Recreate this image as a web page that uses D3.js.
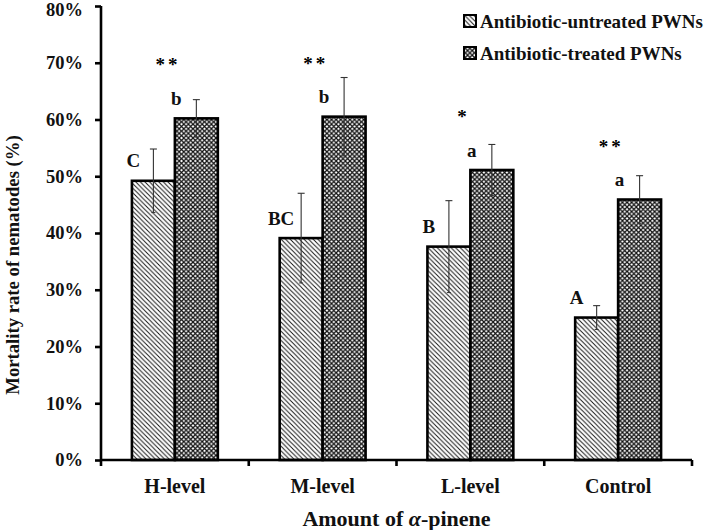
<!DOCTYPE html>
<html><head><meta charset="utf-8">
<script src="https://cdn.jsdelivr.net/npm/d3@7/dist/d3.min.js"></script>
<style>
body{margin:0;background:#fff;}
text{font-family:"Liberation Serif","Times New Roman",serif;font-weight:bold;fill:#111;}
</style></head>
<body><svg id="c" width="705" height="530"></svg>
<script>
const categories = ["H-level","M-level","L-level","Control"];
const seriesNames = ["Antibiotic-untreated PWNs","Antibiotic-treated PWNs"];
const untreated = [49.2, 39.1, 37.6, 25.1];
const untreatedErr = [5.6, 7.9, 8.1, 2.1];
const treated = [60.2, 60.5, 51.1, 45.9];
const treatedErr = [3.3, 6.9, 4.5, 4.2];
const untreatedLetters = ["C","BC","B","A"];
const treatedLetters = ["b","b","a","a"];
const significance = ["**","**","*","**"];
const yTicks = [0,10,20,30,40,50,60,70,80];

const svg = d3.select("#c");
const L=101, R=692, T=6, B=460;
const defs = svg.append("defs");
const hs = 4.6;
const p1 = defs.append("pattern").attr("id","hatch").attr("patternUnits","userSpaceOnUse")
  .attr("width",hs).attr("height",hs);
p1.append("rect").attr("width",hs).attr("height",hs).attr("fill","#fff");
p1.append("path").attr("d",`M-1,-1 L${hs+1},${hs+1} M-1,${hs-1} L1,${hs+1} M${hs-1},-1 L${hs+1},1`).attr("stroke","#111").attr("stroke-width",0.95);
const cs = 4.6;
const p2 = defs.append("pattern").attr("id","cross").attr("patternUnits","userSpaceOnUse")
  .attr("width",cs).attr("height",cs);
p2.append("rect").attr("width",cs).attr("height",cs).attr("fill","#fff");
p2.append("path").attr("d",`M0,0 L${cs},${cs} M${cs},0 L0,${cs}`).attr("stroke","#111").attr("stroke-width",1.25);
const fills = ["url(#hatch)","url(#cross)"];

const y = d3.scaleLinear().domain([0,80]).range([B,T]);
const x0 = d3.scaleBand().domain(categories).range([L,R]).padding(0);
const x1 = d3.scaleBand().domain([0,1]).range([0,x0.bandwidth()]).paddingInner(0).paddingOuter(0.72);

const data = categories.map((c,i)=>({c, vals:[
  {s:0,v:untreated[i],e:untreatedErr[i],lab:untreatedLetters[i]},
  {s:1,v:treated[i],e:treatedErr[i],lab:treatedLetters[i]}], sig:significance[i]}));

const g = svg.append("g");
const grp = g.selectAll("g.grp").data(data).join("g").attr("transform",d=>`translate(${x0(d.c)},0)`);
grp.selectAll("rect").data(d=>d.vals).join("rect")
  .attr("x",d=>x1(d.s)).attr("width",x1.bandwidth())
  .attr("y",d=>y(d.v)).attr("height",d=>B-y(d.v))
  .attr("fill",d=>fills[d.s]).attr("stroke","#000").attr("stroke-width",2.6);

// error bars
const cx = d=>x1(d.s)+x1.bandwidth()/2;
const eb = grp.selectAll("g.eb").data(d=>d.vals).join("g").attr("class","eb");
eb.append("line").attr("x1",cx).attr("x2",cx)
  .attr("y1",d=>y(d.v+d.e)).attr("y2",d=>y(d.v-d.e)).attr("stroke","#333").attr("stroke-width",1.1);
eb.append("line").attr("x1",d=>cx(d)-3.5).attr("x2",d=>cx(d)+3.5)
  .attr("y1",d=>y(d.v+d.e)).attr("y2",d=>y(d.v+d.e)).attr("stroke","#333").attr("stroke-width",1.1);
eb.append("line").attr("x1",d=>cx(d)-2).attr("x2",d=>cx(d)+2)
  .attr("y1",d=>y(d.v-d.e)).attr("y2",d=>y(d.v-d.e)).attr("stroke","#333").attr("stroke-width",1);

// letters
grp.selectAll("text.lab").data(d=>d.vals).join("text").attr("class","lab")
  .attr("x",d=>cx(d)-20).attr("y",d=>y(d.v)-20)
  .attr("dy","0.35em").attr("text-anchor","middle").attr("font-size",19).text(d=>d.lab);
grp.append("text").attr("x",x0.bandwidth()/2-7).attr("y",d=>y(d.vals[1].v)-47)
  .attr("text-anchor","middle").attr("font-size",19).style("fill","#000")
  .attr("letter-spacing",3).text(d=>d.sig);

// axes
const yAxis = d3.axisLeft(y).tickValues(yTicks).tickSize(6).tickPadding(12).tickFormat(d=>d+"%");
const ya = svg.append("g").attr("transform",`translate(${L},0)`).call(yAxis);
ya.select(".domain").attr("stroke","#000").attr("stroke-width",2.6).attr("d",`M0,${T}V${B}`);
ya.selectAll(".tick line").attr("stroke","#000").attr("stroke-width",2.6);
ya.selectAll(".tick text").attr("font-size",18.5).attr("font-family",null).attr("fill","#111")
  .attr("dy",d=>d===80?"0.5em":"0.32em");

const xa = svg.append("g").attr("transform",`translate(0,${B})`);
xa.append("line").attr("x1",L).attr("x2",R).attr("stroke","#000").attr("stroke-width",2.6);
const bounds = categories.map(c=>x0(c)).concat([x0(categories[categories.length-1])+x0.bandwidth()]);
xa.selectAll("line.t").data(bounds).join("line").attr("class","t").attr("x1",d=>d).attr("x2",d=>d)
  .attr("y1",0).attr("y2",6).attr("stroke","#000").attr("stroke-width",2.6);
xa.selectAll("text.cat").data(categories).join("text").attr("class","cat")
  .attr("x",d=>x0(d)+x0.bandwidth()/2).attr("y",33).attr("text-anchor","middle").attr("font-size",20).text(d=>d);

// titles
const xt = svg.append("text").attr("x",(L+R)/2).attr("y",526).attr("text-anchor","middle").attr("font-size",22);
xt.append("tspan").text("Amount of ");
xt.append("tspan").attr("font-style","italic").text("α");
xt.append("tspan").text("-pinene");
svg.append("text").attr("transform","translate(19,265) rotate(-90)").attr("text-anchor","middle")
  .attr("font-size",18.7).text("Mortality rate of nematodes (%)");

// legend
const lg = svg.append("g").attr("transform","translate(463,0)");
seriesNames.forEach((s,i)=>{
  const yy = 21 + i*32;
  lg.append("rect").attr("x",1).attr("y",yy-6).attr("width",12).attr("height",12)
    .attr("fill",fills[i]).attr("stroke","#000").attr("stroke-width",2);
  lg.append("text").attr("x",17).attr("y",yy).attr("dy","0.35em").attr("font-size",19).text(s);
});
</script></body></html>
